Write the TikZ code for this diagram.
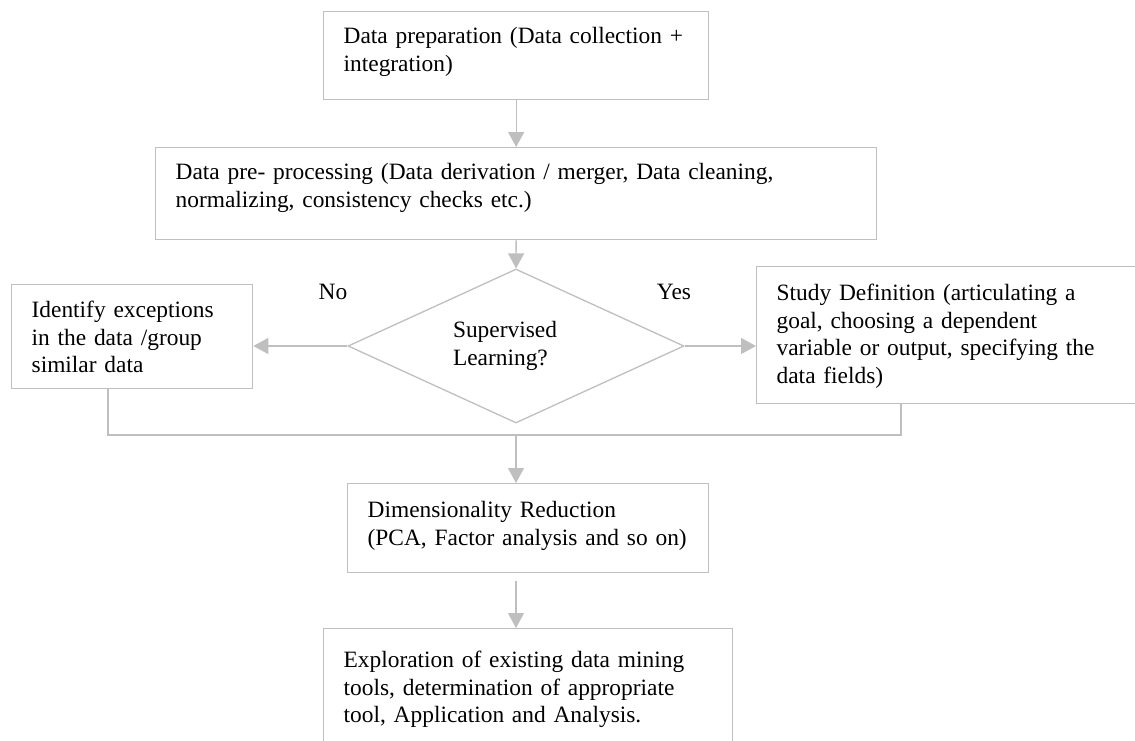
\documentclass[tikz,border=0pt]{standalone}
\usepackage{fontspec}
\setmainfont{Liberation Serif}
\usetikzlibrary{arrows.meta,shapes.geometric}
\definecolor{linegray}{HTML}{BFBFBF}
\tikzset{
  stage/.style={draw=linegray, line width=0.65pt, anchor=north west, align=left, inner xsep=10pt, inner ysep=0pt, font=\fontsize{11.7}{13.8}\selectfont},
  decide/.style={diamond, aspect=2.18, draw=linegray, line width=0.65pt, minimum width=168pt, minimum height=77pt, inner sep=0pt, align=left, font=\fontsize{11.7}{13.8}\selectfont},
  lbl/.style={font=\fontsize{11.7}{13.8}\selectfont},
  fl/.style={-{Triangle[length=7.5pt,width=8pt]}, draw=linegray, line width=0.65pt},
  joinline/.style={draw=linegray, line width=0.9pt},
}
\begin{document}
\begin{tikzpicture}[x=0.5pt, y=-0.5pt]
  \useasboundingbox (0,0) rectangle (1135,740);
  \clip (0,0) rectangle (1135,740);
  % stages
  \node[stage, text width=172.5pt, text height=16pt, text depth=28pt] (prep) at (323,11)
    {Data preparation (Data collection~+\\ integration)};
  \node[stage, text width=340.5pt, text height=16pt, text depth=30pt] (pre) at (155,147)
    {Data pre- processing (Data derivation / merger, Data cleaning,\\ normalizing, consistency checks etc.)};
  \node[decide] (sup) at (516,346) {Supervised\hspace*{11pt}\\ Learning?};
  \node[stage, text width=100.5pt, text height=16.5pt, text depth=35.5pt] (ident) at (11,284)
    {Identify exceptions\\ in the data /group\\ similar data};
  \node[stage, text width=192pt, text height=17pt, text depth=51.5pt] (study) at (756,266)
    {Study Definition (articulating a\\ goal, choosing a dependent\\ variable or output, specifying the\\ data fields)};
  \node[stage, text width=160.5pt, text height=17pt, text depth=27.5pt] (dim) at (347,483)
    {Dimensionality Reduction\\ (PCA, Factor analysis and so~on)};
  \node[stage, text width=184.5pt, text height=19.5pt, text depth=50.5pt] (explore) at (323,628)
    {Exploration of existing data mining\\ tools, determination of appropriate\\ tool, Application and Analysis.};
  \node[lbl] (no) at (333,292) {No};
  \node[lbl] (yes) at (674,292) {Yes};
  \coordinate (merge) at (516,435);
  % connectors
  \draw[fl] (prep) -- (pre);
  \draw[fl] (pre) -- (sup);
  \draw[fl] (sup.west) -- (sup.west -| ident.east);
  \draw[fl] (sup.east) -- (sup.east -| study.west);
  \draw[joinline] ([xshift=-12.25pt]ident.south) |- (merge) -| ([xshift=-34pt]study.south);
  \draw[fl] (merge) -- (merge |- dim.north);
  \draw[fl, shorten <=4pt] (dim.south -| merge) -- (explore.north -| merge);
\end{tikzpicture}
\end{document}
